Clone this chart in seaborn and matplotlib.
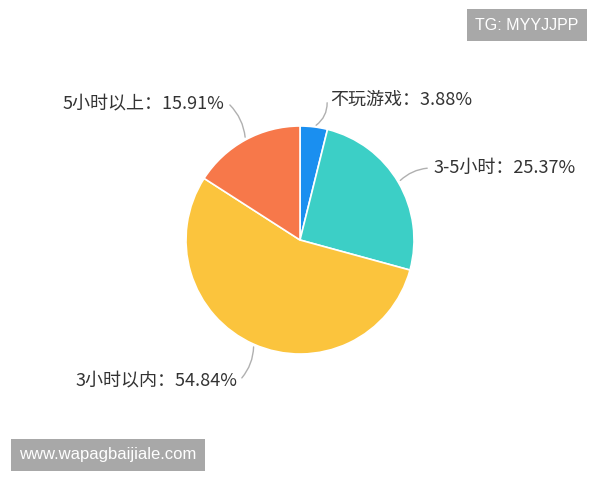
import numpy as np
import matplotlib
matplotlib.use('Agg')
import matplotlib.pyplot as plt
import seaborn as sns

# 数据
categories = ['不玩游戏', '3-5小时', '3小时以内', '5小时以上']
shares = [3.88, 25.37, 54.84, 15.91]
colors = ['#1a8ff0', '#3ccfc6', '#fbc43d', '#f7784a']

# 标签位置 (像素, 左上角为原点)
label_pos = [(330, 100), (433, 168), (75, 380), (63, 103)]
curve_rad = [-0.3, 0.2, 0.2, -0.2]

sns.set_theme(style='white')
plt.rcParams['font.family'] = ['Noto Sans CJK SC', 'DejaVu Sans']

fig = plt.figure(figsize=(6, 4.8), dpi=100)
ax = fig.add_axes([0, 0, 1, 1])

cx, cy, r = 300, 240, 114
wedges, _ = ax.pie(shares, colors=colors, startangle=90, counterclock=False,
                   center=(cx, cy), radius=r, frame=True,
                   wedgeprops=dict(edgecolor='white', linewidth=1.2))
ax.set_xlim(0, 600)
ax.set_ylim(0, 480)
ax.axis('off')

for w, cat, val, (lx, ly), rad in zip(wedges, categories, shares, label_pos, curve_rad):
    mid = np.deg2rad((w.theta1 + w.theta2) / 2)
    px = cx + r * np.cos(mid)
    py = cy + r * np.sin(mid)
    txt = f'{cat}：{val:.2f}%'
    t = ax.text(lx, 480 - ly, txt, ha='left', va='center', fontsize=13, color='#333333')
    # 连线终点放在文字靠近饼图的一侧
    fig.canvas.draw()
    bb = t.get_window_extent().transformed(ax.transData.inverted())
    ex = bb.x0 - 3 if px > cx else bb.x1 + 3
    ax.annotate('', xy=(px, py), xytext=(ex, 480 - ly),
                arrowprops=dict(arrowstyle='-', color='#b0b0b0', lw=1,
                                connectionstyle=f'arc3,rad={rad}'))

# 水印
fig.text(527 / 600, 1 - 25 / 480, 'TG: MYYJJPP', ha='center', va='center',
         fontsize=11.5, color='white', family='Liberation Sans',
         bbox=dict(boxstyle='square,pad=0.55', fc='#a8a8a8', ec='none'))
fig.text(108 / 600, 1 - 455 / 480, 'www.wapagbaijiale.com', ha='center', va='center',
         fontsize=12, color='white', family='Liberation Sans',
         bbox=dict(boxstyle='square,pad=0.5', fc='#a8a8a8', ec='none'))

fig.savefig('out.png', dpi=100, facecolor='white')
